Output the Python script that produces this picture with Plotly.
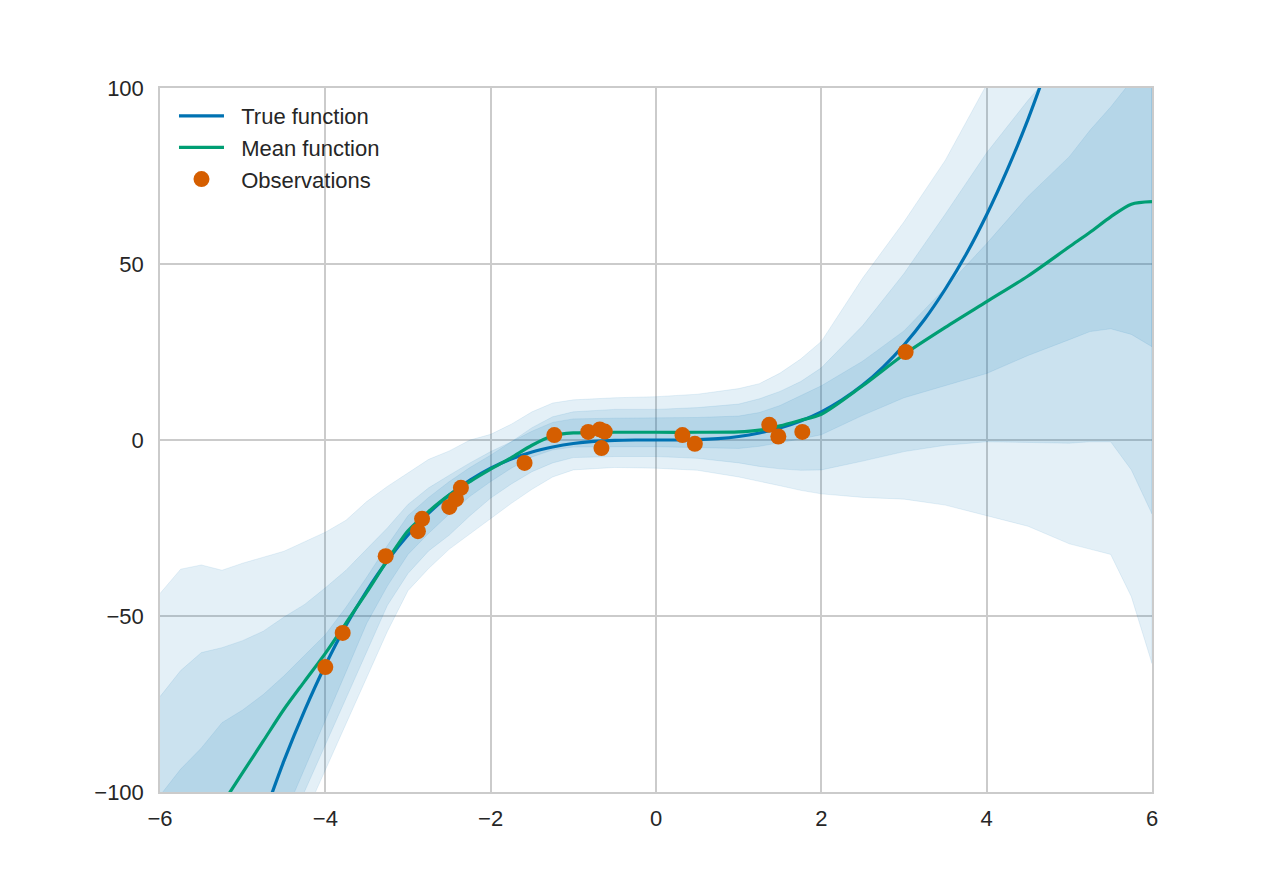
import plotly.graph_objects as go

# ---------------- data ----------------
X_GRID = [-6, -5.75, -5.5, -5.25, -5, -4.75, -4.5, -4.25, -4, -3.75, -3.5, -3.25, -3,
          -2.75, -2.5, -2.25, -2, -1.75, -1.5, -1.25, -1, -0.5, 0, 0.5, 1, 1.25, 1.5,
          1.75, 2, 2.5, 3, 3.5, 4, 4.5, 5, 5.25, 5.5, 5.75, 6]

MEAN = [-128, -120, -112, -103.5, -94.5, -85.5, -76.5, -68.5, -60.6, -52.0, -43.3, -34.2,
        -25.8, -20.3, -15.6, -11.8, -8.3, -5.0, -1.5, 1.2, 2.0, 2.2, 2.2, 2.2, 2.3, 2.8,
        4.0, 5.6, 7.3, 15.4, 24.3, 32.0, 39.3, 46.6, 54.9, 59.0, 63.4, 67.0, 67.7]

# outer band (upper / lower)
OUTER_HI = [-43.6, -36.7, -35.5, -37.0, -35.0, -33.4, -31.6, -28.9, -26.2, -22.8, -17.5,
            -13.2, -9.3, -5.5, -3.1, 0.0, 1.6, 4.5, 8.0, 10.5, 11.4, 12.0, 12.3, 13.0, 14.6,
            16.0, 19.0, 23.0, 28.0, 46.0, 62.0, 79.5, 101, 125, 145, 155, 163, 168, 170]
OUTER_LO = [-200, -190, -180, -165, -150, -135, -120, -106.8, -93.7, -80.6, -67.5, -54.4,
            -42.8, -36.5, -31.0, -26.5, -22.3, -18.0, -14.0, -10.5, -8.5, -7.8, -8.0, -8.6,
            -10.5, -11.8, -13.0, -14.3, -15.3, -16.3, -16.8, -18.5, -21.5, -24.5, -29.5,
            -31.0, -32.5, -44.5, -63.5]

# middle band
MID_HI = [-72.9, -65.5, -60.4, -59.0, -57.0, -54.3, -50.3, -46.7, -42.0, -37.0, -31.0,
          -25.0, -18.3, -13.6, -10.0, -6.5, -3.3, -0.5, 3.5, 6.6, 8.0, 8.7, 8.7, 9.2, 10.2,
          11.7, 13.8, 16.6, 20.5, 32.5, 47.3, 64.2, 81.6, 96.5, 110, 117, 125, 130, 135]
MID_LO = [-180, -170, -160, -150, -140, -125, -113, -100, -86.8, -73.5, -60.3, -47.0,
          -37.9, -31.5, -27.0, -21.5, -16.5, -12.5, -9.0, -6.5, -5.0, -4.7, -4.7, -5.2,
          -6.5, -7.5, -8.2, -8.6, -8.5, -6.0, -3.3, -1.5, -0.5, -0.7, -0.9, -0.5, -0.5,
          -8.5, -21.0]

# inner band
INNER_HI = [-101, -93.5, -87.5, -80.3, -76.7, -72.3, -67.0, -61.1, -55.3, -47.5, -39.0,
            -30.0, -21.5, -16.3, -11.8, -7.8, -4.3, -0.5, 2.5, 5.0, 6.0, 6.2, 6.2, 6.4, 6.8,
            7.8, 9.8, 12.5, 15.4, 22.4, 31.0, 43.2, 55.8, 69.2, 80.5, 88.0, 94.6, 102, 108]
INNER_LO = [-165, -155, -145, -135, -125, -116, -107, -93.4, -79.6, -65.9, -52.1, -41.5,
            -32.5, -26.5, -21.0, -16.0, -11.8, -8.0, -4.8, -2.8, -2.0, -1.9, -1.9, -2.1,
            -2.4, -1.8, -0.8, 0.3, 1.5, 7.0, 12.0, 15.5, 18.9, 24.0, 28.5, 30.8, 31.6, 30.0,
            26.5]

TRUE_X = [-4.75, -4.5, -4.25, -4, -3.75, -3.5, -3.25, -3, -2.75, -2.5, -2.25, -2, -1.75,
          -1.5, -1.25, -1, -0.75, -0.5, -0.25, 0, 0.25, 0.5, 0.75, 1, 1.25, 1.5, 1.75, 2,
          2.25, 2.5, 2.75, 3, 3.25, 3.5, 3.75, 4, 4.25, 4.5, 4.75]
TRUE_Y = [-107.2, -91.1, -76.8, -64.0, -52.7, -42.9, -34.3, -27.0, -20.8, -15.6, -11.4,
          -8.0, -5.4, -3.4, -2.0, -1.0, -0.4, -0.1, 0.0, 0.0, 0.0, 0.1, 0.4, 1.0, 2.0, 3.4,
          5.4, 8.0, 11.4, 15.6, 20.8, 27.0, 34.3, 42.9, 52.7, 64.0, 76.8, 91.1, 107.2]

OBS_X = [-4.00, -3.79, -3.27, -2.88, -2.83, -2.50, -2.42, -2.36, -1.59, -1.23, -0.82,
         -0.68, -0.62, -0.66, 0.32, 0.47, 1.37, 1.48, 1.77, 3.02]
OBS_Y = [-64.5, -54.8, -33.0, -25.9, -22.4, -19.0, -16.8, -13.6, -6.5, 1.4, 2.3, 3.0,
         2.4, -2.3, 1.4, -1.1, 4.3, 1.0, 2.3, 25.0]

X_TICKS = [-6, -4, -2, 0, 2, 4, 6]
X_TICK_TEXT = ["\u22126", "\u22124", "\u22122", "0", "2", "4", "6"]
Y_TICKS = [-100, -50, 0, 50, 100]
Y_TICK_TEXT = ["\u2212100", "\u221250", "0", "50", "100"]

LEGEND_NAMES = ["True function", "Mean function", "Observations"]

# ---------------- figure ----------------
BLUE = "#0072B2"
GREEN = "#009E73"
ORANGE = "#D55E00"
BAND_FILL = "rgba(0,114,178,0.105)"
BAND_EDGE = "rgba(0,114,178,0.12)"
FONT = "Arial, Liberation Sans, sans-serif"
PAD = "\u00a0\u00a0"

fig = go.Figure()

for hi, lo in [(OUTER_HI, OUTER_LO), (MID_HI, MID_LO), (INNER_HI, INNER_LO)]:
    fig.add_trace(go.Scatter(
        x=X_GRID + X_GRID[::-1],
        y=hi + lo[::-1],
        fill="toself",
        fillcolor=BAND_FILL,
        line=dict(color=BAND_EDGE, width=0.8),
        mode="lines",
        hoverinfo="skip",
        showlegend=False,
    ))

fig.add_trace(go.Scatter(
    x=TRUE_X, y=TRUE_Y, mode="lines", name=PAD + LEGEND_NAMES[0],
    line=dict(color=BLUE, width=3.2, shape="spline", smoothing=0.8),
))
fig.add_trace(go.Scatter(
    x=X_GRID, y=MEAN, mode="lines", name=PAD + LEGEND_NAMES[1],
    line=dict(color=GREEN, width=3.2, shape="spline", smoothing=0.8),
))
fig.add_trace(go.Scatter(
    x=OBS_X, y=OBS_Y, mode="markers", name=PAD + LEGEND_NAMES[2],
    marker=dict(color=ORANGE, size=16, line=dict(width=0)),
))

axis_common = dict(
    showgrid=True, gridcolor="#cbcbcb", gridwidth=1.5,
    showline=True, linecolor="#cbcbcb", linewidth=1.5, mirror=True,
    zeroline=False, ticks="", tickfont=dict(size=22, color="#262626", family=FONT),
)

fig.update_xaxes(range=[-6, 6], tickvals=X_TICKS, ticktext=X_TICK_TEXT,
                 ticklabelstandoff=6, **axis_common)
fig.update_yaxes(range=[-100, 100], tickvals=Y_TICKS, ticktext=Y_TICK_TEXT,
                 ticklabelstandoff=10, **axis_common)

fig.update_layout(
    width=1280, height=880,
    margin=dict(l=152, r=136, t=80, b=96),
    paper_bgcolor="white", plot_bgcolor="white",
    font=dict(family=FONT, color="#262626"),
    showlegend=True,
    legend=dict(
        x=0.0141, y=0.99, xanchor="left", yanchor="top",
        bgcolor="rgba(0,0,0,0)", borderwidth=0,
        font=dict(size=22, color="#262626", family=FONT),
        itemwidth=45,
    ),
)

fig.write_html("out.html")
